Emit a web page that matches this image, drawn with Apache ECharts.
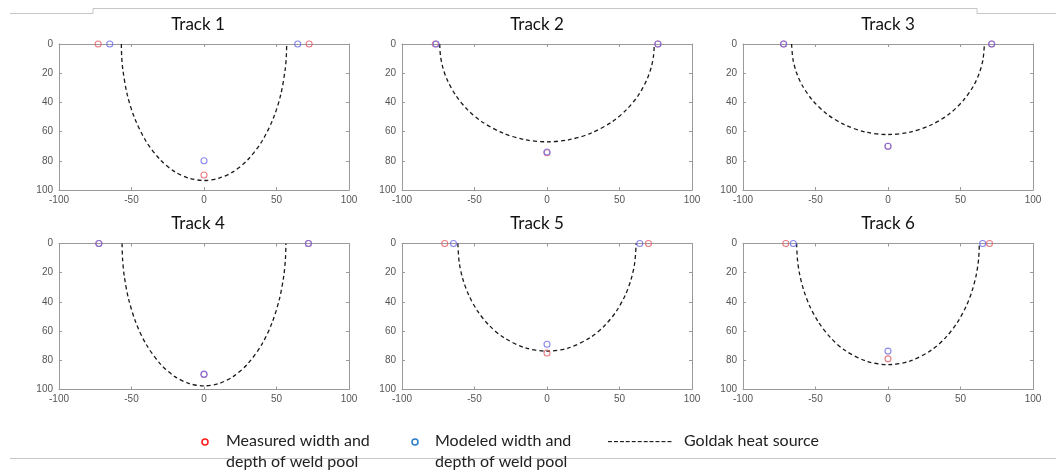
<!DOCTYPE html>
<html>
<head>
<meta charset="utf-8">
<script src="https://cdn.jsdelivr.net/npm/echarts@6/dist/echarts.min.js"></script>
<style>
  html, body { margin: 0; padding: 0; background: #fff; }
  #chart { width: 1056px; height: 471px; }
</style>
</head>
<body>
<div id="chart"></div>
<script>
  // data (x in um, depth in um)
  let trackNames = ['Track 1', 'Track 2', 'Track 3', 'Track 4', 'Track 5', 'Track 6']
  let measuredLeft = [-73, -77, -72, -72.5, -70.5, -70.5]
  let measuredRight = [72.5, 76.5, 71.5, 72, 70, 70]
  let measuredDepth = [89.7, 74.5, 70, 89.7, 75, 79]
  let modeledLeft = [-65, -76.5, -72, -72.5, -64.5, -65.3]
  let modeledRight = [64.6, 76.5, 71.5, 72, 64, 65.3]
  let modeledDepth = [80, 74, 70, 89.5, 69, 73.7]
  // right half of each Goldak profile: [x, depth]
  let goldak1 = [[0, 93.5], [10, 92], [20, 87.6], [30, 79.5], [40, 66.6], [48, 50.4], [53, 34.4], [56, 17.4], [56.8, 8], [57, 0]]
  let goldak2 = [[0, 67], [15, 65.6], [30, 61.2], [45, 53.2], [55, 44.8], [63, 35.1], [69, 24.2], [72, 15.5], [73.5, 7.8], [74, 0]]
  let goldak3 = [[0, 62], [15, 60.4], [30, 55.3], [42, 48.1], [52, 38.6], [59, 28.6], [63, 19.9], [65.5, 10.7], [66.5, 0]]
  let goldak4 = [[0, 97.5], [10, 96], [20, 91.2], [30, 82.6], [40, 68.9], [47, 54.1], [52, 38.1], [55, 22.3], [56.2, 10], [56.5, 0]]
  let goldak5 = [[0, 73.7], [15, 71.5], [30, 64.3], [40, 56], [48, 46.1], [54, 35.3], [58, 24.5], [60.5, 13.2], [61.5, 0]]
  let goldak6 = [[0, 83], [15, 80.6], [30, 73], [40, 64.1], [48, 53.8], [54, 42.8], [58, 32.4], [61, 20.8], [62.5, 10.4], [63, 0]]
  let goldakProfiles = [goldak1, goldak2, goldak3, goldak4, goldak5, goldak6]
  let xTicks = { min: -100, max: 100, interval: 50 }
  let yTicks = { min: 0, max: 100, interval: 20 }

  let gridLefts = [59, 402, 743]
  let gridTops = [44, 243.5]
  let titleCenters = [198, 537, 888]
  let titleTops = [16, 215]

  let axisGray = '#9a9a9a'
  let labelStyle = { fontFamily: 'Liberation Sans', fontSize: 10, color: '#555' }

  let grids = []
  let xAxes = []
  let yAxes = []
  let titles = []
  let series = []

  trackNames.forEach((name, i) => {
    let col = i % 3
    let row = Math.floor(i / 3)
    grids.push({ left: gridLefts[col], top: gridTops[row], width: 290, height: 146 })
    titles.push({
      text: name,
      left: titleCenters[col],
      top: titleTops[row],
      textAlign: 'center',
      padding: 0,
      textStyle: { fontFamily: 'Lato', fontSize: 17, fontWeight: 'normal', color: '#111' }
    })
    // bottom + top x axes, left + right y axes (box like matlab)
    ;['bottom', 'top'].forEach((pos) => {
      xAxes.push({
        type: 'value',
        gridIndex: i,
        position: pos,
        min: xTicks.min,
        max: xTicks.max,
        interval: xTicks.interval,
        axisLine: { show: true, onZero: false, lineStyle: { color: axisGray, width: 1 } },
        axisTick: { show: true, inside: true, length: 3, lineStyle: { color: axisGray } },
        axisLabel: Object.assign({ show: pos === 'bottom', margin: 5 }, labelStyle),
        splitLine: { show: false }
      })
    })
    ;['left', 'right'].forEach((pos) => {
      yAxes.push({
        type: 'value',
        gridIndex: i,
        position: pos,
        inverse: true,
        min: yTicks.min,
        max: yTicks.max,
        interval: yTicks.interval,
        axisLine: { show: true, onZero: false, lineStyle: { color: axisGray, width: 1 } },
        axisTick: { show: true, inside: true, length: 3, lineStyle: { color: axisGray } },
        axisLabel: Object.assign({ show: pos === 'left', margin: 6 }, labelStyle),
        splitLine: { show: false }
      })
    })

    let half = goldakProfiles[i]
    let curve = half.slice().reverse().map((p) => [-p[0], p[1]]).concat(half.slice(1))
    series.push({
      name: 'Goldak heat source',
      type: 'line',
      xAxisIndex: 2 * i,
      yAxisIndex: 2 * i,
      data: curve,
      smooth: 0.3,
      showSymbol: false,
      clip: false,
      silent: true,
      lineStyle: { color: '#1a1a1a', width: 1.3, type: [4, 3] },
      z: 2
    })
    series.push({
      name: 'Measured',
      type: 'scatter',
      xAxisIndex: 2 * i,
      yAxisIndex: 2 * i,
      data: [[measuredLeft[i], 0], [measuredRight[i], 0], [0, measuredDepth[i]]],
      symbol: 'circle',
      symbolSize: 6,
      clip: false,
      itemStyle: { color: 'rgba(0,0,0,0)', borderColor: '#e35d66', borderWidth: 1.1 },
      z: 3
    })
    series.push({
      name: 'Modeled',
      type: 'scatter',
      xAxisIndex: 2 * i,
      yAxisIndex: 2 * i,
      data: [[modeledLeft[i], 0], [modeledRight[i], 0], [0, modeledDepth[i]]],
      symbol: 'circle',
      symbolSize: 6,
      clip: false,
      itemStyle: { color: 'rgba(0,0,0,0)', borderColor: '#6a6ae6', borderWidth: 1.1 },
      z: 4
    })
  })

  let legendFont = { fontFamily: 'Lato', fontSize: 16, fill: '#222', lineHeight: 21 }
  let pageGray = '#c6c6c6'

  let myChart = echarts.init(document.getElementById('chart'), null, { renderer: 'canvas' })
  myChart.setOption({
    animation: false,
    title: titles,
    grid: grids,
    xAxis: xAxes,
    yAxis: yAxes,
    series: series,
    graphic: [
      // page edges from the source document
      { type: 'polyline', shape: { points: [[10, 13.5], [93, 13.5], [93, 8.5], [977, 8.5], [977, 13.5], [1056, 13.5]] }, style: { stroke: pageGray, lineWidth: 1, fill: null } },
      { type: 'line', shape: { x1: 10, y1: 458.5, x2: 1056, y2: 458.5 }, style: { stroke: pageGray, lineWidth: 1 } },
      // legend
      { type: 'circle', shape: { cx: 205, cy: 442, r: 3 }, style: { fill: '#fff', stroke: '#ff1a1a', lineWidth: 1.5 } },
      { type: 'text', left: 226, top: 430, style: Object.assign({ text: 'Measured width and\ndepth of weld pool' }, legendFont) },
      { type: 'circle', shape: { cx: 415, cy: 442, r: 3 }, style: { fill: '#fff', stroke: '#2b7bc6', lineWidth: 1.5 } },
      { type: 'text', left: 435, top: 430, style: Object.assign({ text: 'Modeled width and\ndepth of weld pool' }, legendFont) },
      { type: 'text', left: 607, top: 430, style: Object.assign({ text: '-----------' }, legendFont) },
      { type: 'text', left: 684, top: 430, style: Object.assign({ text: 'Goldak heat source' }, legendFont) }
    ]
  })
  window.addEventListener('resize', function () {
    myChart.resize()
  })
</script>
</body>
</html>
